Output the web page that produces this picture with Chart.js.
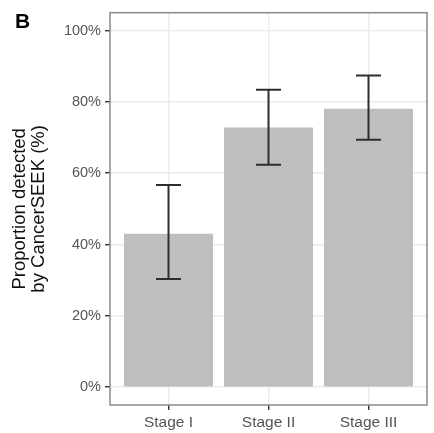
<!DOCTYPE html>
<html>
<head>
<meta charset="utf-8">
<script src="https://cdn.jsdelivr.net/npm/chart.js@4/dist/chart.umd.min.js"></script>
<style>
  html, body { margin: 0; padding: 0; background: #fff; }
  canvas { display: block; }
</style>
</head>
<body>
<canvas id="stageChart" width="434" height="433"></canvas>
<script>
// 各分期检出比例 (%)
const stages = ['Stage I', 'Stage II', 'Stage III'];
const detected = [43, 72.8, 78.1];
const ciLower = [30.3, 62.4, 69.4];
const ciUpper = [56.7, 83.4, 87.4];
const yTicks = [0, 20, 40, 60, 80, 100];

const FONT = '"Liberation Sans", Arial, Helvetica, sans-serif';

// 误差线 + 面板边框 + 图号
const errorBarPlugin = {
  id: 'errorBars',
  afterDatasetsDraw(chart) {
    const ctx = chart.ctx;
    const xs = chart.scales.x;
    const ys = chart.scales.y;
    ctx.save();
    ctx.strokeStyle = '#2e2e2e';
    ctx.lineWidth = 2;
    ctx.lineCap = 'butt';
    stages.forEach((s, i) => {
      const x = xs.getPixelForValue(i + 1);
      const xl = xs.getPixelForValue(i + 1 - 0.125);
      const xr = xs.getPixelForValue(i + 1 + 0.125);
      const yl = ys.getPixelForValue(ciLower[i]);
      const yu = ys.getPixelForValue(ciUpper[i]);
      ctx.beginPath();
      ctx.moveTo(x, yl); ctx.lineTo(x, yu);
      ctx.moveTo(xl, yl); ctx.lineTo(xr, yl);
      ctx.moveTo(xl, yu); ctx.lineTo(xr, yu);
      ctx.stroke();
    });
    ctx.restore();
  },
  afterDraw(chart) {
    const ctx = chart.ctx;
    const a = chart.chartArea;
    ctx.save();
    ctx.strokeStyle = '#8a8a8a';
    ctx.lineWidth = 1.5;
    ctx.strokeRect(a.left, a.top, a.right - a.left, a.bottom - a.top);
    ctx.fillStyle = '#000';
    ctx.font = 'bold 21px ' + FONT;
    ctx.textBaseline = 'alphabetic';
    ctx.fillText('B', 15, 28);
    ctx.restore();
  }
};

new Chart(document.getElementById('stageChart'), {
  type: 'bar',
  data: {
    datasets: [{
      data: detected.map((v, i) => ({ x: i + 1, y: v })),
      backgroundColor: '#bebebe',
      borderWidth: 0,
      barPercentage: 0.89,
      categoryPercentage: 1
    }]
  },
  options: {
    responsive: false,
    animation: false,
    layout: { padding: { left: 0, right: 7, top: 10, bottom: 0 } },
    plugins: {
      legend: { display: false },
      tooltip: { enabled: false }
    },
    scales: {
      x: {
        type: 'linear',
        offset: false,
        min: 0.415,
        max: 3.585,
        afterBuildTicks: scale => { scale.ticks = stages.map((s, i) => ({ value: i + 1 })); },
        afterFit: scale => { scale.height = 28; },
        ticks: {
          callback: v => stages[v - 1],
          color: '#555',
          font: { family: FONT, size: 15.5 },
          padding: 3,
          maxRotation: 0
        },
        grid: { offset: false, color: '#ebebeb', lineWidth: 1.4, tickColor: '#333', tickLength: 5 },
        border: { display: false }
      },
      y: {
        min: -5,
        max: 105,
        afterBuildTicks: scale => { scale.ticks = yTicks.map(v => ({ value: v })); },
        afterFit: scale => { scale.width = 110; },
        ticks: {
          callback: v => v + '%',
          color: '#555',
          font: { family: FONT, size: 14.5 },
          padding: 4
        },
        grid: { color: '#ebebeb', lineWidth: 1.4, tickColor: '#333', tickLength: 5 },
        border: { display: false },
        title: {
          display: true,
          text: ['Proportion detected', 'by CancerSEEK (%)'],
          color: '#111',
          font: { family: FONT, size: 18.5, lineHeight: 1.05 },
          padding: { top: 10, bottom: 0 }
        }
      }
    }
  },
  plugins: [errorBarPlugin]
});
</script>
</body>
</html>
